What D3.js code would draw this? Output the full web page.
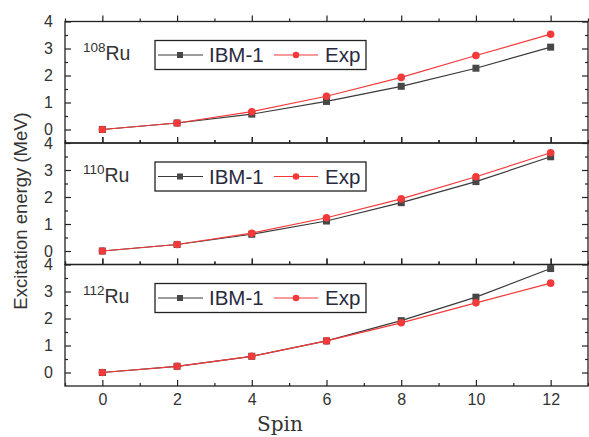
<!DOCTYPE html>
<html>
<head>
<meta charset="utf-8">
<script src="https://cdnjs.cloudflare.com/ajax/libs/d3/7.8.5/d3.min.js"></script>
<style>
body { margin: 0; background: #fff; }
svg { display: block; }
.tick text { font-family: "Liberation Sans", Arial, sans-serif; font-size: 16px; fill: #333; }
.domain { display: none; }
</style>
</head>
<body>
<svg id="chart" width="589" height="437"></svg>
<script>
// data
var spins = [0, 2, 4, 6, 8, 10, 12];
var isotopes = ["108", "110", "112"];
var ibm108 = [0, 0.24, 0.57, 1.04, 1.60, 2.27, 3.05];
var exp108 = [0, 0.24, 0.66, 1.23, 1.93, 2.74, 3.53];
var ibm110 = [0, 0.24, 0.62, 1.11, 1.79, 2.57, 3.49];
var exp110 = [0, 0.24, 0.66, 1.23, 1.93, 2.75, 3.64];
var ibm112 = [0, 0.23, 0.60, 1.17, 1.92, 2.79, 3.85];
var exp112 = [0, 0.23, 0.60, 1.17, 1.84, 2.58, 3.31];
var xTicks = [0, 2, 4, 6, 8, 10, 12];
var yTicks = [0, 1, 2, 3, 4];
var seriesNames = ["IBM-1", "Exp"];

var ibmSets = [ibm108, ibm110, ibm112];
var expSets = [exp108, exp110, exp112];

var chart = d3.select("#chart");
var left = 65, right = 588, top0 = 21.5, panelH = 121.5;

var x = d3.scaleLinear().domain([-1, 13]).range([left, right]);

var black = "#3a3a3a", red = "#f23a3a";

var line = function(y) {
  return d3.line().x(function(d, i) { return x(spins[i]); }).y(function(d) { return y(d); });
};

isotopes.forEach(function(iso, p) {
  var pt = top0 + p * panelH;
  var pb = pt + panelH;
  var y = d3.scaleLinear().domain([-0.5, 4]).range([pb, pt]);
  var g = chart.append("g");

  // frame
  g.append("rect").attr("x", left).attr("y", pt).attr("width", right - left).attr("height", panelH)
    .attr("fill", "none").attr("stroke", "#222").attr("stroke-width", 1.3);

  // y axis (left, labels outside, ticks inward)
  var yAxis = d3.axisLeft(y).tickValues(yTicks).tickSize(-6).tickPadding(12).tickFormat(d3.format("d"));
  g.append("g").attr("transform", "translate(" + left + ",0)").call(yAxis)
    .selectAll("line").attr("stroke", "#222").attr("stroke-width", 1.2);
  g.append("g").attr("transform", "translate(" + left + ",0)")
    .call(d3.axisLeft(y).tickValues([0.5, 1.5, 2.5, 3.5]).tickSize(-3).tickFormat(""))
    .selectAll("line").attr("stroke", "#222").attr("stroke-width", 1.2);
  // right ticks
  g.append("g").attr("transform", "translate(" + right + ",0)")
    .call(d3.axisRight(y).tickValues(yTicks).tickSize(-6).tickFormat(""))
    .selectAll("line").attr("stroke", "#222").attr("stroke-width", 1.2);
  g.append("g").attr("transform", "translate(" + right + ",0)")
    .call(d3.axisRight(y).tickValues([0.5, 1.5, 2.5, 3.5]).tickSize(-3).tickFormat(""))
    .selectAll("line").attr("stroke", "#222").attr("stroke-width", 1.2);

  // x ticks top and bottom, inward
  [[pt, d3.axisTop, 6], [pb, d3.axisBottom, -6]].forEach(function(a) {
    var ax = g.append("g").attr("transform", "translate(0," + a[0] + ")")
      .call(a[1](x).tickValues(xTicks).tickSize(a[2]).tickFormat(""));
    ax.selectAll("line").attr("stroke", "#222").attr("stroke-width", 1.2);
    var ax2 = g.append("g").attr("transform", "translate(0," + a[0] + ")")
      .call(a[1](x).tickValues([-1, 1, 3, 5, 7, 9, 11, 13]).tickSize(a[2] / 2).tickFormat(""));
    ax2.selectAll("line").attr("stroke", "#222").attr("stroke-width", 1.2);
  });
  // bottom panel tick labels
  if (p === 2) {
    var bx = g.append("g").attr("transform", "translate(0," + pb + ")")
      .call(d3.axisBottom(x).tickValues(xTicks).tickSize(0).tickPadding(8));
    bx.selectAll("line").remove();
  }

  // series
  var ibm = ibmSets[p], exp = expSets[p];
  g.append("path").datum(ibm).attr("d", line(y)).attr("fill", "none").attr("stroke", black).attr("stroke-width", 1.2);
  g.append("path").datum(exp).attr("d", line(y)).attr("fill", "none").attr("stroke", red).attr("stroke-width", 1.2);
  g.selectAll(".sq").data(ibm).enter().append("rect")
    .attr("x", function(d, i) { return x(spins[i]) - 3.5; })
    .attr("y", function(d) { return y(d) - 3.5; })
    .attr("width", 7).attr("height", 7).attr("fill", "#474747");
  g.selectAll(".ci").data(exp).enter().append("circle")
    .attr("cx", function(d, i) { return x(spins[i]); })
    .attr("cy", function(d) { return y(d); })
    .attr("r", 3.8).attr("fill", red);

  // isotope label
  var lab = g.append("text").attr("x", 83).attr("y", pt + 38.5)
    .attr("font-family", "Liberation Sans, Arial, sans-serif").attr("fill", "#333");
  lab.append("tspan").attr("font-size", 13.5).attr("dy", -8).text(iso);
  lab.append("tspan").attr("font-size", 19.5).attr("dy", 8).text("Ru");

  // legend
  var ly = pt + 19;
  g.append("rect").attr("x", 155).attr("y", ly).attr("width", 211).attr("height", 29)
    .attr("fill", "#fff").attr("stroke", "#222").attr("stroke-width", 1.3);
  var my = ly + 14.5;
  g.append("line").attr("x1", 158).attr("x2", 203).attr("y1", my).attr("y2", my).attr("stroke", black).attr("stroke-width", 1.2);
  g.append("rect").attr("x", 177).attr("y", my - 3).attr("width", 6).attr("height", 6).attr("fill", "#474747");
  g.append("text").attr("x", 209).attr("y", my + 7).attr("font-size", 20.5)
    .attr("font-family", "Liberation Sans, Arial, sans-serif").attr("fill", "#2a2a40").text(seriesNames[0]);
  g.append("line").attr("x1", 274).attr("x2", 318).attr("y1", my).attr("y2", my).attr("stroke", red).attr("stroke-width", 1.2);
  g.append("circle").attr("cx", 296).attr("cy", my).attr("r", 3.3).attr("fill", red);
  g.append("text").attr("x", 325).attr("y", my + 7).attr("font-size", 20.5)
    .attr("font-family", "Liberation Sans, Arial, sans-serif").attr("fill", "#2a2a40").text(seriesNames[1]);
});

// axis titles
chart.append("text").attr("transform", "translate(27,211) rotate(-90)")
  .attr("text-anchor", "middle").attr("font-size", 18.5)
  .attr("font-family", "Liberation Sans, Arial, sans-serif").attr("fill", "#333")
  .text("Excitation energy (MeV)");
chart.append("text").attr("x", 280).attr("y", 431).attr("text-anchor", "middle")
  .attr("font-size", 20).attr("font-family", "DejaVu Serif, serif").attr("fill", "#333")
  .text("Spin");
</script>
</body>
</html>
